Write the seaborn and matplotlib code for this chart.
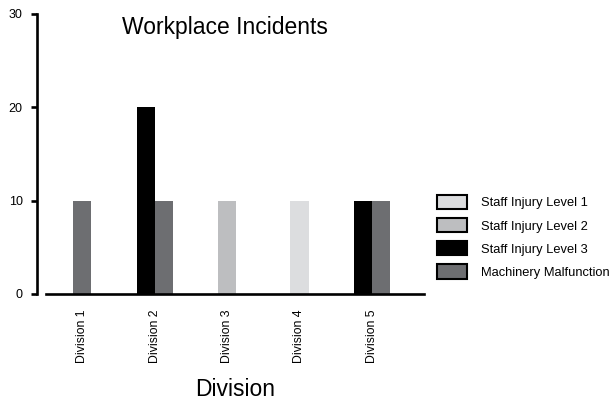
import matplotlib
matplotlib.use("Agg")
import matplotlib.pyplot as plt
from matplotlib.patches import Patch
import pandas as pd
import seaborn as sns

divisions = ["Division 1", "Division 2", "Division 3", "Division 4", "Division 5"]
series = ["Staff Injury Level 1", "Staff Injury Level 2", "Staff Injury Level 3",
          "Machinery Malfunction"]
level1 = [0, 0, 0, 10, 0]
level2 = [0, 0, 10, 0, 0]
level3 = [0, 20, 0, 0, 10]
machinery = [10, 10, 0, 0, 10]
colors = ["#dcdddf", "#bdbec0", "#000000", "#6d6e71"]

values = {s: v for s, v in zip(series, [level1, level2, level3, machinery])}
df = pd.DataFrame([
    {"Division": d, "Series": s, "Count": values[s][i]}
    for i, d in enumerate(divisions) for s in series
])
palette = dict(zip(series, colors))

sns.set_style("white")
plt.rcParams["font.family"] = ["Liberation Sans", "DejaVu Sans"]
for key in ("text.color", "axes.labelcolor", "xtick.color", "ytick.color"):
    plt.rcParams[key] = "black"

fig = plt.figure(figsize=(6.11, 4.01), dpi=100)
ax = fig.add_axes([46 / 611, 107 / 401, 378 / 611, 280 / 401])

# Each division only shows its non-zero series, centred on the category
bar_w = 0.25
for d in divisions:
    sub = df[(df["Division"] == d) & (df["Count"] > 0)]
    present = [s for s in series if s in set(sub["Series"])]
    sns.barplot(data=sub, x="Division", y="Count", hue="Series",
                order=divisions, hue_order=present,
                palette={s: palette[s] for s in present},
                width=bar_w * len(present), saturation=1, dodge=True,
                linewidth=0, legend=False, ax=ax)

ax.set_xlim(-0.5, 4.72)
ax.set_ylim(0, 30)
ax.set_yticks([0, 10, 20, 30])
ax.set_xticks(range(len(divisions)))
ax.set_xticklabels(divisions, rotation=90, fontsize=8.8)
ax.set_xticks([-0.5, 4.72], minor=True)
ax.tick_params(axis="x", which="major", length=0, pad=11)
ax.tick_params(axis="x", which="minor", length=4.3, width=1.9, direction="out")
ax.tick_params(axis="y", length=4.3, width=1.9, direction="out", pad=6,
               labelsize=9, left=True)

for side in ("top", "right"):
    ax.spines[side].set_visible(False)
for side in ("left", "bottom"):
    ax.spines[side].set_linewidth(1.9)
    ax.spines[side].set_color("black")
ax.spines["left"].set_position(("outward", 6.5))
ax.spines["left"].set_bounds(0, 30)

ax.set_ylabel("")
ax.set_xlabel("Division", fontsize=16.5, labelpad=11)

fig.text(224.5 / 611, 1 - 34 / 401, "Workplace Incidents", ha="center",
         va="baseline", fontsize=16.5)

handles = [Patch(facecolor=c, edgecolor="black", linewidth=1.5) for c in colors]
fig.legend(handles, series, loc="upper left",
           bbox_to_anchor=(437 / 611, 1 - 195 / 401), frameon=False,
           borderpad=0, borderaxespad=0, fontsize=9.3, handlelength=2.3,
           handleheight=1.3, handletextpad=1.1, labelspacing=0.68)

fig.savefig("out.png", dpi=100)
